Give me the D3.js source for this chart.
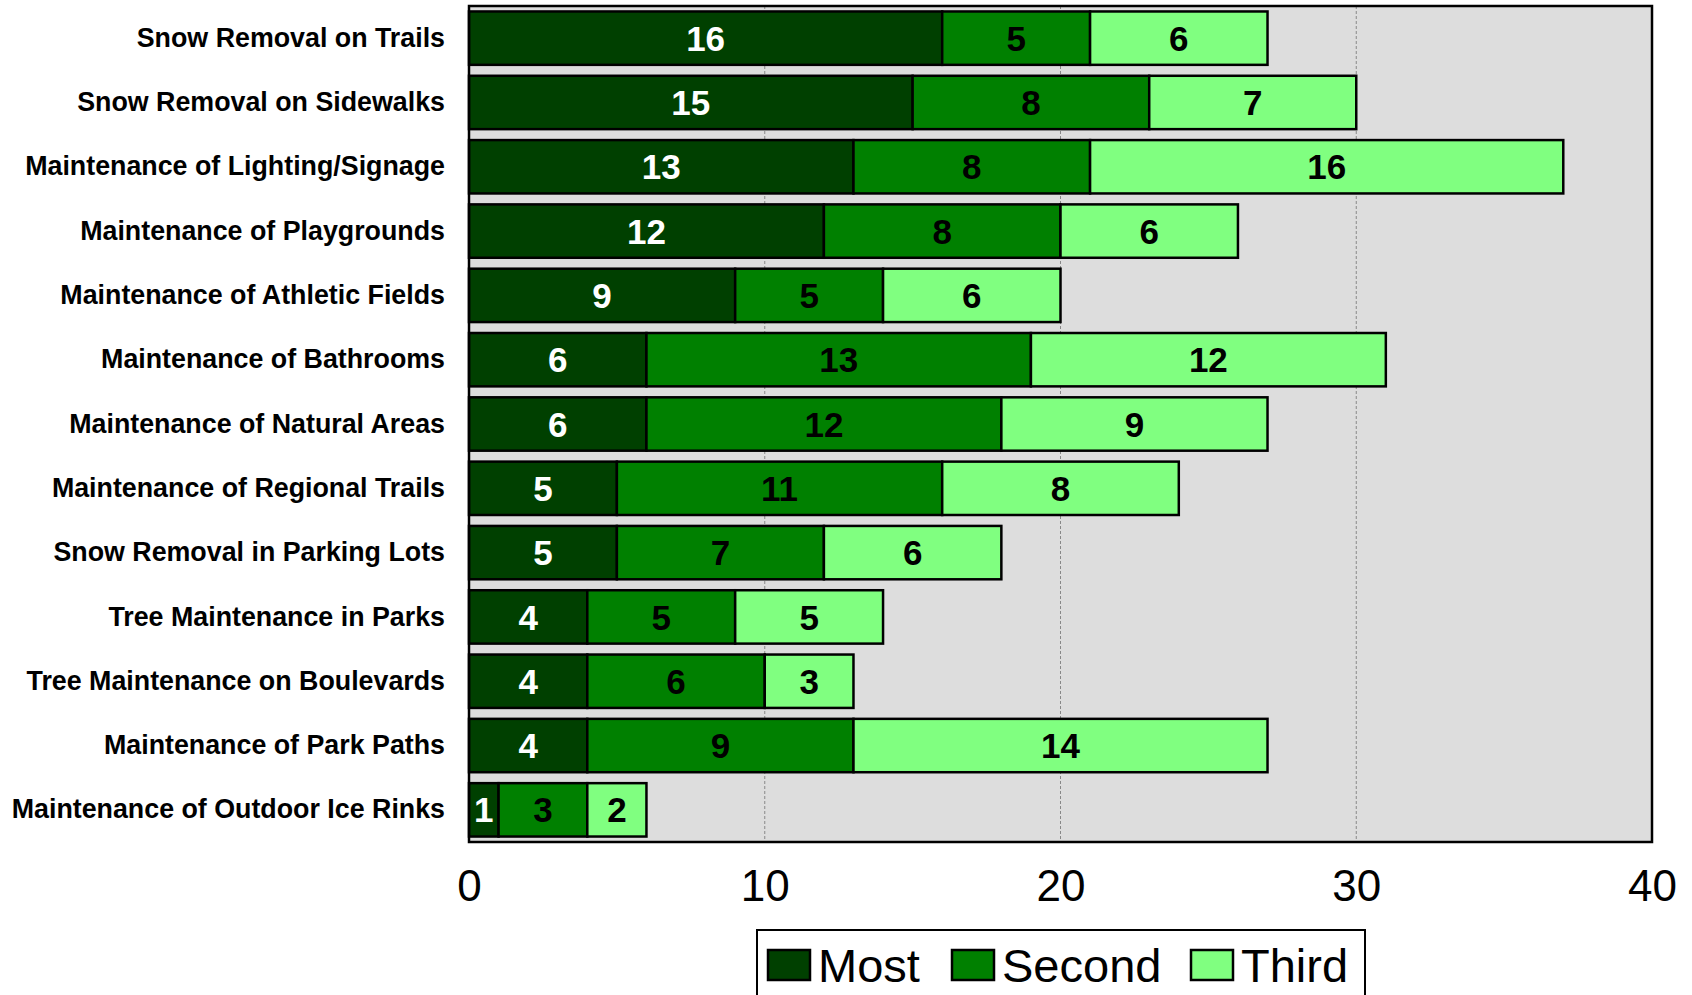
<!DOCTYPE html>
<html>
<head>
<meta charset="utf-8">
<script src="https://cdn.jsdelivr.net/npm/d3@7"></script>
<style>
  html, body { margin: 0; padding: 0; background: #ffffff; }
  svg { display: block; }
</style>
</head>
<body>
<svg id="chart" width="1692" height="995"></svg>
<script>
const categories = [
  "Snow Removal on Trails",
  "Snow Removal on Sidewalks",
  "Maintenance of Lighting/Signage",
  "Maintenance of Playgrounds",
  "Maintenance of Athletic Fields",
  "Maintenance of Bathrooms",
  "Maintenance of Natural Areas",
  "Maintenance of Regional Trails",
  "Snow Removal in Parking Lots",
  "Tree Maintenance in Parks",
  "Tree Maintenance on Boulevards",
  "Maintenance of Park Paths",
  "Maintenance of Outdoor Ice Rinks"
];
const mostValues   = [16, 15, 13, 12, 9, 6, 6, 5, 5, 4, 4, 4, 1];
const secondValues = [5, 8, 8, 8, 5, 13, 12, 11, 7, 5, 6, 9, 3];
const thirdValues  = [6, 7, 16, 6, 6, 12, 9, 8, 6, 5, 3, 14, 2];
const seriesNames  = ["Most", "Second", "Third"];
const xTicks       = [0, 10, 20, 30, 40];

const colors = { Most: "#004000", Second: "#008000", Third: "#80FF80" };
const labelColors = { Most: "#ffffff", Second: "#000000", Third: "#000000" };

const rows = categories.map((c, i) => ({ category: c, Most: mostValues[i], Second: secondValues[i], Third: thirdValues[i] }));
const stacked = d3.stack().keys(seriesNames)(rows);

const svg = d3.select("#chart");
const margin = { left: 469, right: 1692 - 1652, top: 6, bottom: 995 - 842 };
const W = 1692, H = 995;

const x = d3.scaleLinear().domain([0, 40]).range([margin.left, W - margin.right]);
const y = d3.scaleBand().domain(categories).range([margin.top, H - margin.bottom]).paddingInner(0.17).paddingOuter(0.085);

// plot background
svg.append("rect")
  .attr("x", x(0)).attr("y", margin.top)
  .attr("width", x(40) - x(0)).attr("height", (H - margin.bottom) - margin.top)
  .attr("fill", "#dddddd");

// gridlines
svg.append("g").selectAll("line").data(xTicks.filter(t => t > 0 && t < 40)).join("line")
  .attr("x1", d => x(d)).attr("x2", d => x(d))
  .attr("y1", margin.top).attr("y2", H - margin.bottom)
  .attr("stroke", "#888888").attr("stroke-width", 1).attr("stroke-dasharray", "3,2");

// bars
const layers = svg.append("g").selectAll("g").data(stacked).join("g")
  .attr("fill", d => colors[d.key]);
layers.selectAll("rect").data(d => d.map(v => ({ key: d.key, v }))).join("rect")
  .attr("x", d => x(d.v[0]))
  .attr("y", d => y(d.v.data.category))
  .attr("width", d => x(d.v[1]) - x(d.v[0]))
  .attr("height", y.bandwidth())
  .attr("stroke", "#000000").attr("stroke-width", 2.5);

// value labels
const lbl = svg.append("g").attr("font-family", "'Liberation Sans', Arial, sans-serif")
  .attr("font-weight", "bold").attr("font-size", 35).attr("text-anchor", "middle");
stacked.forEach(layer => {
  lbl.selectAll(null).data(layer).join("text")
    .attr("x", d => (x(d[0]) + x(d[1])) / 2)
    .attr("y", d => y(d.data.category) + y.bandwidth() / 2)
    .attr("dy", "0.36em")
    .attr("fill", labelColors[layer.key])
    .text(d => d[1] - d[0]);
});

// plot frame
svg.append("rect")
  .attr("x", x(0)).attr("y", margin.top)
  .attr("width", x(40) - x(0)).attr("height", (H - margin.bottom) - margin.top)
  .attr("fill", "none").attr("stroke", "#000000").attr("stroke-width", 2.5);

// y axis labels
const yAxis = d3.axisLeft(y).tickSize(0).tickPadding(24);
const gy = svg.append("g").attr("transform", `translate(${x(0)},0)`).call(yAxis);
gy.select(".domain").remove();
gy.selectAll("text")
  .attr("font-family", "'Liberation Sans', Arial, sans-serif")
  .attr("font-weight", "bold").attr("font-size", 26.8).attr("fill", "#000");

// x axis
const xAxis = d3.axisBottom(x).tickValues(xTicks).tickSize(0).tickPadding(28).tickFormat(d3.format("d"));
const gx = svg.append("g").attr("transform", `translate(0,${H - margin.bottom})`).call(xAxis);
gx.select(".domain").remove();
gx.selectAll("text")
  .attr("font-family", "'Liberation Sans', Arial, sans-serif")
  .attr("font-size", 44).attr("fill", "#000");

// legend
const legend = svg.append("g");
legend.append("rect")
  .attr("x", 757).attr("y", 930).attr("width", 608).attr("height", 80)
  .attr("fill", "#ffffff").attr("stroke", "#000").attr("stroke-width", 2);
const legendX = [768, 952, 1191];
const items = legend.selectAll("g.item").data(seriesNames).join("g").attr("class", "item")
  .attr("transform", (d, i) => `translate(${legendX[i]},0)`);
items.append("rect")
  .attr("x", 0).attr("y", 950).attr("width", 42).attr("height", 30)
  .attr("fill", d => colors[d]).attr("stroke", "#000").attr("stroke-width", 2.5);
items.append("text")
  .attr("x", 50).attr("y", 982)
  .attr("font-family", "'Liberation Sans', Arial, sans-serif")
  .attr("font-size", 47).attr("fill", "#000")
  .text(d => d);
</script>
</body>
</html>
